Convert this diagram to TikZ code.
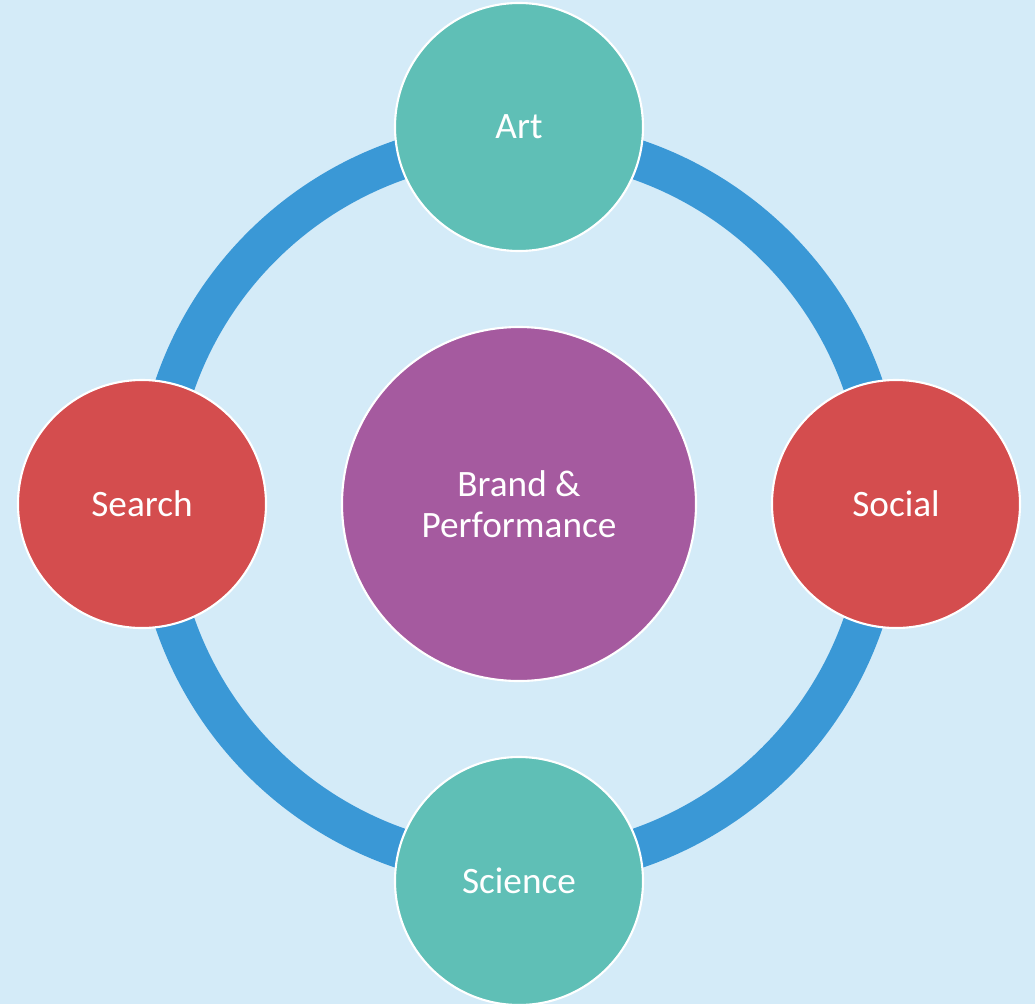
\documentclass[tikz,border=0pt]{standalone}
\usepackage{fontspec}
\setmainfont{Carlito}
\usepackage{xcolor}
\usepackage{tikz}
\usetikzlibrary{positioning}
\definecolor{bgblue}{RGB}{212,235,248}
\definecolor{ringblue}{RGB}{58,152,214}
\definecolor{tealfill}{RGB}{95,191,182}
\definecolor{redfill}{RGB}{212,77,78}
\definecolor{purplefill}{RGB}{165,90,159}
\tikzset{
  ball/.style={circle, draw=white, line width=1.5pt, minimum size=6.2cm, inner sep=0pt, text=white, align=center, font=\fontsize{26.5}{29.5}\selectfont},
  tealball/.style={ball, fill=tealfill},
  redball/.style={ball, fill=redfill},
  hubball/.style={ball, fill=purplefill, minimum size=8.85cm},
  ringline/.style={draw=ringblue, line width=1cm}
}

\begin{document}
\begin{tikzpicture}
  \path[use as bounding box, fill=bgblue] (-12.975,-12.5) rectangle (12.9,12.6);

  \node[hubball] (hub) at (0,0) {Brand \&\\Performance};
  % ring sits behind the outer circles
  \draw[ringline] (hub.center) circle[radius=9.1cm];

  \node[tealball] (art) at (0,9.425) {Art};
  \node[redball] (social) at (9.425,0) {Social};
  \node[tealball] (science) at (0,-9.425) {Science};
  \node[redball] (search) at (-9.425,0) {Search};
\end{tikzpicture}
\end{document}
